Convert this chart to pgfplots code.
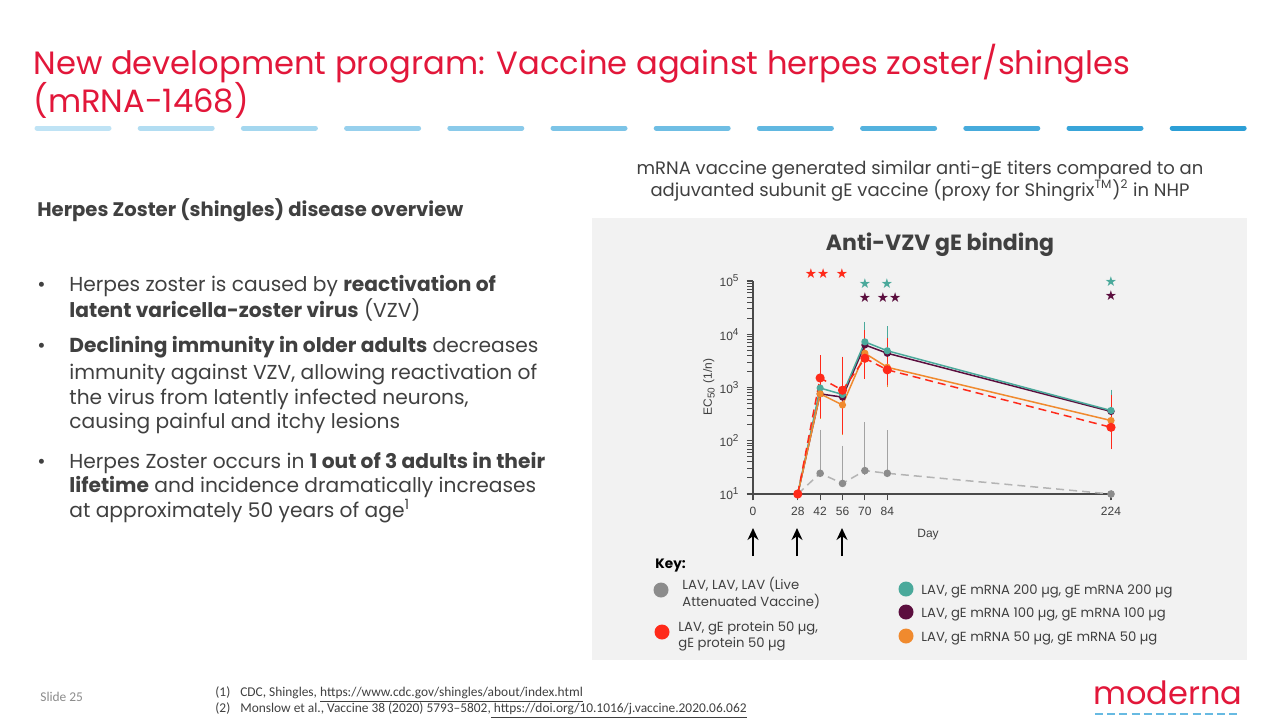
\documentclass[border=0pt]{standalone}
\usepackage{pgfplots}
\pgfplotsset{compat=1.18}
\usepackage{pgfplotstable}
\usetikzlibrary{arrows.meta}
\usepackage{fontspec}
\setmainfont{Poppins}
\newfontfamily\arial{Liberation Sans}
\newfontfamily\calib{Carlito}
\newfontfamily\dejavu{DejaVu Sans}

\definecolor{mred}{HTML}{E2173A}
\definecolor{txt}{HTML}{404040}
\definecolor{panel}{HTML}{F2F2F2}
\definecolor{axisc}{HTML}{4A4A4A}
\definecolor{cgrey}{HTML}{8C8C8C}
\definecolor{cgreyl}{HTML}{B4B4B4}
\definecolor{cred}{HTML}{FF2A1A}
\definecolor{cteal}{HTML}{4AA99B}
\definecolor{cpurp}{HTML}{5B0E3E}
\definecolor{corange}{HTML}{F08A2E}
\definecolor{dashA}{HTML}{BFE3F5}
\definecolor{dashB}{HTML}{2C9FD6}

% EC50 titres by study day (mean, error up, error down)
\pgfplotstableread{
x y ep em
28 10 0 0
42 24.5 110 0
56 15.8 52 0
70 27.5 160 0
84 24.5 107 0
224 10 0 0
}\lav
\pgfplotstableread{
x y ep em
28 10 0 0
42 760 800 400
56 660 700 330
70 6300 8000 3500
84 4400 7600 2400
224 355 280 180
}\purp
\pgfplotstableread{
x y ep em
28 10 0 0
42 980 1200 500
56 740 700 400
70 7200 7000 3500
84 4900 7000 2500
224 370 400 200
}\teal
\pgfplotstableread{
x y ep em
28 10 0 0
42 760 900 450
56 470 1300 320
70 4400 4000 2400
84 2400 2500 1200
224 240 300 150
}\orng
\pgfplotstableread{
x y ep em
28 10 0 0
42 1510 1890 1190
56 890 2310 730
70 3540 6500 1800
84 2150 5000 800
224 179 420 97
}\prot

\begin{document}
\begin{tikzpicture}[x=0.5pt,y=-0.5pt]
\fill[white] (0,0) rectangle (1280,720);

% title
\node[anchor=base west, inner sep=0, text=mred, font=\fontsize{16.1}{16}\selectfont] at (33,74) {New development program: Vaccine against herpes zoster/shingles};
\node[anchor=base west, inner sep=0, text=mred, font=\fontsize{16.1}{16}\selectfont] at (33,112) {(mRNA-1468)};
\foreach \i in {0,...,11} {
  \pgfmathsetmacro\p{\i*100/11}
  \draw[line width=2.5pt, line cap=round, color=dashB!\p!dashA] ({37+\i*103.2},128) -- ({109+\i*103.2},128);
}

% left text
\begin{scope}[every node/.style={anchor=base west, inner sep=0, text=txt, font=\fontsize{10.1}{11}\selectfont}]
\node[font=\fontsize{9.8}{11}\selectfont\bfseries] at (37,216) {Herpes Zoster (shingles) disease overview};
\node at (37,291) {\textbullet};
\node at (69,291) {Herpes zoster is caused by \textbf{reactivation of}};
\node at (69,317) {\textbf{latent varicella-zoster virus} (VZV)};
\node at (37,352) {\textbullet};
\node at (69,352) {\textbf{Declining immunity in older adults} decreases};
\node at (69,379) {immunity against VZV, allowing reactivation of};
\node at (69,404) {the virus from latently infected neurons,};
\node at (69,428) {causing painful and itchy lesions};
\node at (37,468) {\textbullet};
\node at (69,468) {Herpes Zoster occurs in \textbf{1 out of 3 adults in their}};
\node at (69,492) {\textbf{lifetime} and incidence dramatically increases};
\node at (69,517) {at approximately 50 years of age\textsuperscript{1}};
\end{scope}

% subtitle
\node[anchor=base, inner sep=0, text=txt, font=\fontsize{9}{10}\selectfont] at (920,174) {mRNA vaccine generated similar anti-gE titers compared to an};
\node[anchor=base, inner sep=0, text=txt, font=\fontsize{9}{10}\selectfont] at (920,196) {adjuvanted subunit gE vaccine (proxy for Shingrix\textsuperscript{TM})\textsuperscript{2} in NHP};

% panel
\fill[panel] (592,218) rectangle (1247,660);
\node[anchor=base, inner sep=0, text=txt, font=\fontsize{11}{12}\selectfont\bfseries] at (940,250) {Anti-VZV gE binding};

\begin{axis}[
  at={(376.5pt,-247pt)}, anchor=south west,
  width=179pt, height=106.5pt, scale only axis,
  ymode=log, log basis y=10,
  xmin=0, xmax=224, ymin=10, ymax=1e5,
  axis lines*=left,
  axis line style={color=axisc, line width=0.6pt},
  xtick pos=bottom, ytick pos=left,
  major tick style={color=axisc, line width=0.6pt},
  minor tick style={color=axisc, line width=0.5pt},
  tick align=outside,
  major tick length=3.2pt, minor tick length=3pt,
  xtick={0,28,42,56,70,84,224},
  ytick={10,100,1000,10000,100000},
  minor ytick={20,30,40,50,60,70,80,90,200,300,400,500,600,700,800,900,2000,3000,4000,5000,6000,7000,8000,9000,20000,30000,40000,50000,60000,70000,80000,90000},
  yticklabel={\pgfmathtruncatemacro\e{round(\tick)}10\textsuperscript{\e}},
  ticklabel style={font=\arial\fontsize{6}{6}\selectfont, text=txt},
  /pgf/number format/assume math mode=true,
  clip=false,
  every axis plot/.append style={line width=0.75pt},
  error bars/error bar style={line width=0.45pt, solid},
  error bars/error mark options={line width=0.45pt, mark size=2pt, solid},
]
\addplot[cgreyl, dashed, dash pattern=on 4pt off 2.5pt, mark=*, mark size=1.5pt, mark options={solid, fill=cgrey, draw=cgrey},
  error bars/.cd, y dir=both, y explicit, error bar style={color=cgrey!80}]
  table[x=x, y=y, y error plus=ep, y error minus=em] {\lav};
\addplot[cpurp, mark=*, mark size=1.4pt,
  error bars/.cd, y dir=both, y explicit, error bar style={color=cgrey}]
  table[x=x, y=y, y error plus=ep, y error minus=em] {\purp};
\addplot[cteal, mark=*, mark size=1.4pt,
  error bars/.cd, y dir=both, y explicit, error bar style={color=cteal}]
  table[x=x, y=y, y error plus=ep, y error minus=em] {\teal};
\addplot[corange, mark=*, mark size=1.4pt,
  error bars/.cd, y dir=both, y explicit, error bar style={color=corange}]
  table[x=x, y=y, y error plus=ep, y error minus=em] {\orng};
\addplot[cred, dashed, dash pattern=on 4pt off 2.5pt, mark=*, mark size=1.9pt, mark options={solid},
  error bars/.cd, y dir=both, y explicit, error bar style={color=cred}]
  table[x=x, y=y, y error plus=ep, y error minus=em] {\prot};
\end{axis}

% axis titles
\node[rotate=90, inner sep=0, text=txt, font=\arial\fontsize{6}{6}\selectfont] at (709,387) {EC\textsubscript{50} (1/n)};
\node[inner sep=0, text=txt, font=\arial\fontsize{6}{6}\selectfont] at (928,535) {Day};

% significance stars
\begin{scope}[every node/.style={inner sep=0, font=\dejavu\fontsize{6.8}{6.8}\selectfont}]
\node[text=cred] at (817,274) {★★};
\node[text=cred] at (842,274) {★};
\node[text=cteal] at (865,284) {★};
\node[text=cteal] at (887,284) {★};
\node[text=cpurp] at (865,298) {★};
\node[text=cpurp] at (889,298) {★★};
\node[text=cteal] at (1111,282) {★};
\node[text=cpurp] at (1111,296) {★};
\end{scope}

% dosing arrows
\foreach \xx in {753,797,842}
  \draw[black, line width=1.1pt, -{Stealth[length=6pt, width=5.5pt]}] (\xx,556) -- (\xx,528);

% key
\node[anchor=base west, inner sep=0, text=black, font=\fontsize{6.8}{7}\selectfont\bfseries] at (655,568) {Key:};
\fill[cgrey] (661,590) circle (7.5);
\fill[cred] (662,632) circle (7.5);
\fill[cteal] (906,589) circle (7.5);
\fill[cpurp] (906,612) circle (7.5);
\fill[corange] (906,636) circle (7.5);
\begin{scope}[every node/.style={anchor=base west, inner sep=0, text=txt, font=\fontsize{6.6}{7}\selectfont}]
\node at (682,589) {LAV, LAV, LAV (Live};
\node at (682,606) {Attenuated Vaccine)};
\node at (678,631) {LAV, gE protein 50 µg,};
\node at (678,647) {gE protein 50 µg};
\node at (921,594) {LAV, gE mRNA 200 µg, gE mRNA 200 µg};
\node at (921,617) {LAV, gE mRNA 100 µg, gE mRNA 100 µg};
\node at (921,641) {LAV, gE mRNA 50 µg, gE mRNA 50 µg};
\end{scope}

% footer
\begin{scope}[every node/.style={anchor=base west, inner sep=0, text=txt, font=\calib\fontsize{6.7}{7}\selectfont}]
\node[text=cgrey] at (40,701) {Slide 25};
\node at (215,696) {(1)\hspace{5pt}CDC, Shingles, \underline{https://www.cdc.gov/shingles/about/index.html}};
\node at (215,712) {(2)\hspace{5pt}Monslow et al., Vaccine 38 (2020) 5793–5802,\underline{ https://doi.org/10.1016/j.vaccine.2020.06.062}};
\end{scope}
\node[anchor=base west, inner sep=0, text=mred, font=\fontsize{16}{16}\selectfont] at (1093,704) {moderna};
\foreach \i in {0,...,11}
  \draw[line width=0.8pt, color=dashB!60!dashA] ({1095+\i*12.2},714) -- ({1103+\i*12.2},714);
\end{tikzpicture}
\end{document}
